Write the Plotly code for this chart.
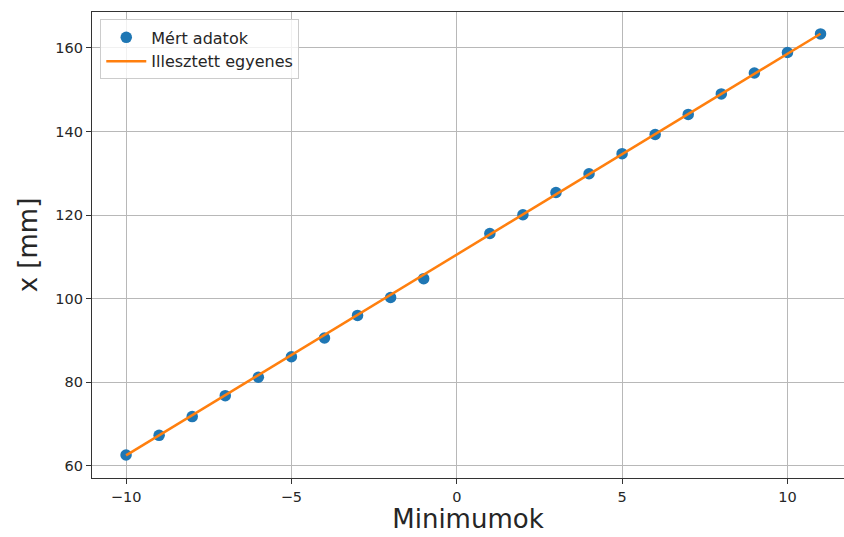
import plotly.graph_objects as go

# Measured data
minimumok = [-10, -9, -8, -7, -6, -5, -4, -3, -2, -1, 1, 2, 3, 4, 5, 6, 7, 8, 9, 10, 11]
x_mm = [62.6, 67.3, 71.8, 76.8, 81.2, 86.1, 90.6, 96.0, 100.3, 104.8,
        115.6, 120.1, 125.4, 129.9, 134.7, 139.3, 144.1, 149.0, 154.0, 158.9, 163.35]

# Fitted line endpoints
fit_x = [-10, 11]
fit_y = [62.5, 163.4]

x_ticks = [-10, -5, 0, 5, 10]
y_ticks = [60, 80, 100, 120, 140, 160]

FONT = "DejaVu Sans"
TXT = "#262626"

fig = go.Figure()
fig.add_trace(go.Scatter(
    x=minimumok, y=x_mm, mode="markers", name="Mért adatok",
    marker=dict(color="#1f77b4", size=11.5, line=dict(width=0)),
))
fig.add_trace(go.Scatter(
    x=fit_x, y=fit_y, mode="lines", name="Illesztett egyenes",
    line=dict(color="#ff7f0e", width=2.5),
))

axis_common = dict(
    showgrid=True, gridcolor="#b8b8b8", gridwidth=1,
    zeroline=False, showline=True, linecolor="#333333", linewidth=1.2,
    ticks="outside", ticklen=5, tickwidth=1, tickcolor="#333333",
    tickfont=dict(family=FONT, size=14.5, color=TXT),
)

fig.update_layout(
    width=844, height=537,
    margin=dict(l=92, r=0, t=12, b=59),
    paper_bgcolor="white", plot_bgcolor="white",
    font=dict(family=FONT, color=TXT),
    showlegend=True,
    legend=dict(
        x=0.011, y=0.984, xanchor="left", yanchor="top",
        bgcolor="rgba(255,255,255,0.8)", bordercolor="#cccccc", borderwidth=1,
        font=dict(family=FONT, size=16, color=TXT),
        itemwidth=40, tracegroupgap=2,
    ),
    xaxis=dict(
        range=[-11.03, 11.71], tickvals=x_ticks,
        ticktext=["−10", "−5", "0", "5", "10"],
        mirror=True,
        title=dict(text="Minimumok", font=dict(family=FONT, size=26, color=TXT), standoff=6),
        **axis_common,
    ),
    yaxis=dict(
        range=[57.1, 168.6], tickvals=y_ticks,
        mirror=False,
        title=dict(text="x [mm]", font=dict(family=FONT, size=26, color=TXT), standoff=10),
        **axis_common,
    ),
)

fig.write_html("out.html")
